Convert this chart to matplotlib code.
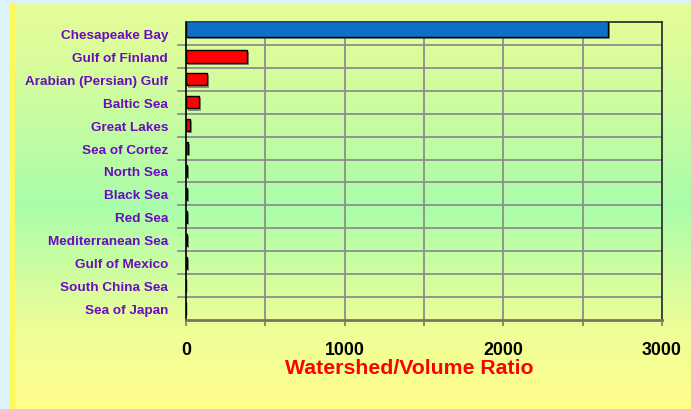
import numpy as np
import matplotlib
matplotlib.use("Agg")
import matplotlib.pyplot as plt
from matplotlib.colors import LinearSegmentedColormap
import matplotlib.patheffects as pe

categories = ["Chesapeake Bay", "Gulf of Finland", "Arabian (Persian) Gulf", "Baltic Sea",
              "Great Lakes", "Sea of Cortez", "North Sea", "Black Sea", "Red Sea",
              "Mediterranean Sea", "Gulf of Mexico", "South China Sea", "Sea of Japan"]
ratios = [2660, 386, 130, 84, 25, 12, 8, 7, 6, 5, 5, 2, 1]
xticks_major = [0, 1000, 2000, 3000]
xlabel = "Watershed/Volume Ratio"

W, H = 691, 410
fig = plt.figure(figsize=(W / 100, H / 100), dpi=100)
fig.patch.set_facecolor("#dcf3f9")

# background panel with gradient
bg = fig.add_axes([14 / W, 0, (W - 14) / W, (H - 4) / H])
cmap = LinearSegmentedColormap.from_list(
    "bg", [(0, "#ffff8c"), (0.2, "#edfe98"), (0.5, "#aafdaa"), (0.85, "#d8fc9c"), (1.0, "#e6fd98")])
grad = np.linspace(0, 1, 256).reshape(-1, 1)
bg.imshow(grad, aspect="auto", cmap=cmap, origin="lower", extent=[0, 1, 0, 1])
bg.set_axis_off()
# yellow stripe
stripe = fig.add_axes([10 / W, 0, 5 / W, (H - 4) / H])
stripe.set_facecolor("#fff85a")
stripe.set_xticks([]); stripe.set_yticks([])
for s in stripe.spines.values():
    s.set_visible(False)

left, right, top, bottom = 186, 662, 23, 321
ax = fig.add_axes([left / W, 1 - bottom / H, (right - left) / W, (bottom - top) / H])
ax.patch.set_alpha(0)

n = len(categories)
ypos = np.arange(n)
shadow = [pe.SimplePatchShadow(offset=(1.5, -1.5), shadow_rgbFace="#555555", alpha=0.6), pe.Normal()]
# Chesapeake bar (blue, drawn larger)
b0 = ax.barh(ypos[0] - 0.19, ratios[0], height=0.7, color="#0f6ec6", edgecolor="black",
             linewidth=1.0, zorder=5)
for p in b0:
    p.set_path_effects(shadow)
b = ax.barh(ypos[1:], ratios[1:], height=0.54, color="#ff0000", edgecolor="black",
            linewidth=1.0, zorder=4)
for p in b:
    p.set_path_effects(shadow)

ax.set_xlim(0, 3000)
ax.set_ylim(n - 0.5, -0.5)

# grid
for xv in range(500, 3000, 500):
    ax.axvline(xv, color="#8e8e8e", lw=1.3, zorder=1)
for k in range(n - 1):
    ax.plot([-8 / (right - left) * 3000, 3000], [k + 0.5, k + 0.5], color="#8e8e8e", lw=1.3,
            zorder=1, clip_on=False)

ax.set_xticks(xticks_major)
ax.set_xticklabels([str(v) for v in xticks_major], fontsize=12.8, fontweight="bold",
                   family="Liberation Sans", color="black")
ax.set_xticks(range(0, 3001, 500), minor=True)
ax.tick_params(axis="x", which="both", direction="out", length=4, color="#7a8a60", width=1.3, pad=11)
ax.set_yticks(ypos)
ax.set_yticklabels(categories, fontsize=9.7, fontweight="bold", family="Liberation Sans",
                   color="#6a0cc0")
ax.tick_params(axis="y", length=0, pad=13)

ax.spines["left"].set_color("black")
ax.spines["left"].set_linewidth(1.2)
ax.spines["bottom"].set_color("#6f7a58")
ax.spines["bottom"].set_linewidth(2.0)
ax.spines["right"].set_color("#333333")
ax.spines["right"].set_linewidth(1.3)
ax.spines["top"].set_color("#333333")
ax.spines["top"].set_linewidth(1.3)

fig.text(409 / W, 1 - 369 / H, xlabel, ha="center", va="center", fontsize=15.3,
         fontweight="bold", family="Liberation Sans", color="#ff0000")

fig.savefig("out.png", dpi=100, facecolor=fig.get_facecolor())
